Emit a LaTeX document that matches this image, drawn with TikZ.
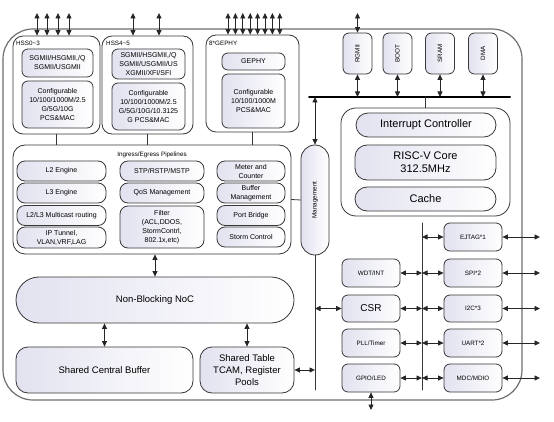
\documentclass[tikz,border=0pt]{standalone}
\usepackage{fontspec}
\setmainfont{Liberation Sans}
\usetikzlibrary{arrows.meta,positioning}
\definecolor{boxfill}{RGB}{226,226,240}
\definecolor{edge}{RGB}{55,55,55}
\definecolor{frame}{RGB}{110,110,110}
\begin{document}
\begin{tikzpicture}[x=1pt, y=-1pt, line cap=round,
  >={Triangle[length=5.5pt,width=5pt]},
  sz/.style 2 args={minimum width=#1pt, minimum height=#2pt},
  blk/.style={draw=edge, line width=0.8pt, rounded corners=6pt, left color=boxfill,
    right color=white, inner sep=1pt, align=center, font=\fontsize{7}{9}\selectfont},
  grp/.style={draw=edge, line width=0.8pt, rounded corners=10pt, fill=white, inner sep=0pt},
  pill/.style={blk, rounded corners=8pt},
  tiny/.style={font=\fontsize{6.3}{8}\selectfont},
  big/.style={font=\fontsize{11}{13}\selectfont},
  mid/.style={font=\fontsize{9.5}{12}\selectfont},
  link/.style={draw=edge, line width=0.8pt},
  io/.style={link, <->, draw=black!85}
]
  \useasboundingbox (0,0) rectangle (554,422);

  % outer frame
  \draw[frame, line width=1.2pt, rounded corners=30pt] (3,29) rectangle (522,400);

  % ports: HSS0~3
  \node[grp, sz={87}{98}] (hssa) at (56.5,85) {};
  \node[tiny, anchor=west, inner sep=0pt] (hssalbl) at (16,43) {HSS0\textasciitilde3};
  \node[blk, sz={71}{28}] (hssaif) at (57.5,63) {SGMII/HSGMII,/Q\\SGMII/USGMII};
  \node[blk, sz={71}{47}] (hssapcs) at (57.5,104.5) {Configurable\\10/100/1000M/2.5\\G/5G/10G\\PCS\&MAC};

  % ports: HSS4~5
  \node[grp, sz={91}{98}] (hssb) at (147.5,85) {};
  \node[tiny, anchor=west, inner sep=0pt] (hssblbl) at (106,43) {HSS4\textasciitilde5};
  \node[blk, sz={73}{30}] (hssbif) at (148.5,64) {SGMII/HSGMII,/Q\\SGMII/USGMII/US\\XGMII/XFI/SFI};
  \node[blk, sz={73}{47}] (hssbpcs) at (148.5,106.5) {Configurable\\10/100/1000M/2.5\\G/5G/10G/10.3125\\G PCS\&MAC};

  % ports: 8*GEPHY
  \node[grp, sz={93}{97}] (phy) at (252.5,83.5) {};
  \node[tiny, anchor=west, inner sep=0pt] (phylbl) at (209,43) {8*GEPHY};
  \node[blk, sz={63}{17}] (gephy) at (253.5,61.5) {GEPHY};
  \node[blk, sz={63}{54}] (phypcs) at (253.5,101) {Configurable\\10/100/1000M\\PCS\&MAC};

  % pipelines
  \node[grp, rounded corners=12pt, sz={278}{109}] (pipe) at (152,199.5) {};
  \node[tiny] (pipelbl) at (152,155) {Ingress/Egress Pipelines};
  \node[pill, sz={89}{20}] (l2) at (61.5,171) {L2 Engine};
  \node[pill, sz={89}{20}] (l3) at (61.5,193) {L3 Engine};
  \node[pill, sz={89}{20}] (mcast) at (61.5,215.5) {L2/L3 Multicast routing};
  \node[pill, sz={89}{21}] (tunnel) at (61.5,237.5) {IP Tunnel,\\VLAN,VRF,LAG};
  \node[pill, sz={84}{20}] (stp) at (162,171) {STP/RSTP/MSTP};
  \node[pill, sz={84}{20}] (qos) at (162,193) {QoS Management};
  \node[pill, sz={84}{42}] (filter) at (162,227) {Filter\\(ACL,DDOS,\\StormContrl,\\802.1x,etc)};
  \node[pill, sz={68}{20}] (meter) at (251,171) {Meter and\\Counter};
  \node[pill, sz={68}{20}] (buffer) at (251,193) {Buffer\\Management};
  \node[pill, sz={68}{20}] (bridge) at (251,215.5) {Port Bridge};
  \node[pill, sz={68}{20}] (storm) at (251,237) {Storm Control};

  % management
  \node[blk, rounded corners=14pt, sz={28}{110}, tiny] (mgmt) at (315,200) {\rotatebox{90}{Management}};

  % noc and shared memories
  \node[blk, rounded corners=23pt, sz={278}{46}, mid] (noc) at (155,300) {Non-Blocking NoC};
  \node[blk, rounded corners=12pt, sz={177}{46}, mid] (scb) at (104.5,370) {Shared Central Buffer};
  \node[blk, rounded corners=12pt, sz={94}{46}, mid] (stbl) at (247,370) {Shared Table\\TCAM, Register\\Pools};

  % system bus slaves
  \node[blk, sz={29}{41}, tiny] (rgmii) at (357.5,53.5) {\rotatebox{90}{RGMII}};
  \node[blk, sz={29}{41}, tiny] (boot) at (397.5,53.5) {\rotatebox{90}{BOOT}};
  \node[blk, sz={29}{41}, tiny] (sram) at (440,53.5) {\rotatebox{90}{SRAM}};
  \node[blk, sz={29}{41}, tiny] (dma) at (483,53.5) {\rotatebox{90}{DMA}};

  % cpu
  \node[grp, rounded corners=15pt, sz={169}{108}] (cpu) at (425.5,162) {};
  \node[blk, rounded corners=12pt, sz={140}{24}, big] (irq) at (426,125) {Interrupt Controller};
  \node[blk, rounded corners=12pt, sz={141}{35}, big] (core) at (425.5,162.5) {RISC-V Core\\312.5MHz};
  \node[blk, rounded corners=12pt, sz={141}{24}, big] (cache) at (425.5,199) {Cache};

  % peripherals
  \node[blk, sz={58}{28}, tiny] (wdt) at (371,273) {WDT/INT};
  \node[blk, sz={58}{27}, font=\fontsize{10}{12}\selectfont] (csr) at (371,308.5) {CSR};
  \node[blk, sz={58}{28}, tiny] (pll) at (371,343) {PLL/Timer};
  \node[blk, sz={58}{28}, tiny] (gpio) at (371,378) {GPIO/LED};
  \node[blk, sz={58}{28}, tiny] (ejtag) at (473,237) {EJTAG*1};
  \node[blk, sz={58}{28}, tiny] (spi) at (473,273) {SPI*2};
  \node[blk, sz={58}{27}, tiny] (i2c) at (473,308.5) {I2C*3};
  \node[blk, sz={58}{28}, tiny] (uart) at (473,343) {UART*2};
  \node[blk, sz={58}{28}, tiny] (mdc) at (473,378) {MDC/MDIO};

  % coordinates
  \coordinate (busL) at (309,97);
  \coordinate (busR) at (510,97);
  \coordinate (v1) at (315,390);
  \coordinate (v2t) at (422,223);
  \coordinate (v2b) at (422,390);
  \coordinate (ioR) at (540,0);
  \coordinate (gpioOut) at (371,410);
  \coordinate (rgmiiOut) at (357.5,13);

  % external port arrows
  \foreach \x [count=\i] in {37,47,58,69} {
    \coordinate (pa\i) at (\x,13);
    \draw[io] (pa\i) -- (pa\i |- hssa.north);
  }
  \foreach \x [count=\i] in {133,159} {
    \coordinate (pb\i) at (\x,13);
    \draw[io] (pb\i) -- (pb\i |- hssb.north);
  }
  \foreach \i in {0,...,7} {
    \coordinate (pc\i) at ({228+7.4*\i},13);
    \draw[io] (pc\i) -- (pc\i |- phy.north);
  }
  \draw[io] (rgmiiOut) -- (rgmii.north);

  % ports to pipelines
  \foreach \n in {hssa,hssb,phy}
    \draw[link] (\n.south) -- (\n.south |- pipe.north);
  \draw[link] (pipe.east) -- (mgmt.west);

  % system bus
  \draw[draw=black, line width=2pt] (busL) -- (busR);
  \foreach \n in {rgmii,boot,sram,dma}
    \draw[io] (\n.south) -- (\n.south |- busL);
  \draw[link] (cpu.north) -- (cpu.north |- busL);
  \draw[io] (busL -| mgmt.north) -- (mgmt.north);

  % management and peripheral buses
  \draw[link] (mgmt.south) -- (v1);
  \draw[link] (v2t) -- (v2b);
  \draw[io] (v1 |- csr.west) -- (csr.west);
  \draw[io] (stbl.east) -- (stbl.east -| v1);
  \foreach \n in {wdt,csr,pll,gpio}
    \draw[io] (\n.east) -- (\n.east -| v2t);
  \foreach \n in {ejtag,spi,i2c,uart,mdc} {
    \draw[io] (\n.west -| v2t) -- (\n.west);
    \draw[io] (\n.east) -- (\n.east -| ioR);
  }
  \draw[io] (gpio.south) -- (gpioOut);

  % noc links
  \draw[io] (noc.north |- pipe.south) -- (noc.north);
  \draw[io] (scb.north |- noc.south) -- (scb.north);
  \draw[io] (stbl.north |- noc.south) -- (stbl.north);
\end{tikzpicture}
\end{document}
